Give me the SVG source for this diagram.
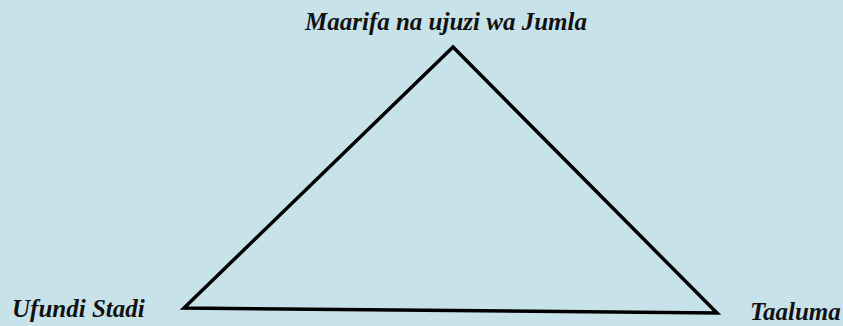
<svg xmlns="http://www.w3.org/2000/svg" width="843" height="326" viewBox="0 0 843 326">
<style>
.lbl{font-family:"Liberation Serif","Times New Roman",serif;font-weight:bold;font-style:italic;font-size:25px;fill:#111}
.tri{fill:none;stroke:#000;stroke-width:3.5;stroke-linejoin:miter}
</style>
<rect width="843" height="326" fill="#c8e2ea"/>
<g id="connectors">
<polygon class="tri" points="453,47 184,308 717,313"/>
</g>
<g id="top"><text class="lbl" x="446" y="30" text-anchor="middle">Maarifa na ujuzi wa Jumla</text></g>
<g id="left"><text class="lbl" x="12" y="317">Ufundi Stadi</text></g>
<g id="right"><text class="lbl" x="750" y="320">Taaluma</text></g>
</svg>
